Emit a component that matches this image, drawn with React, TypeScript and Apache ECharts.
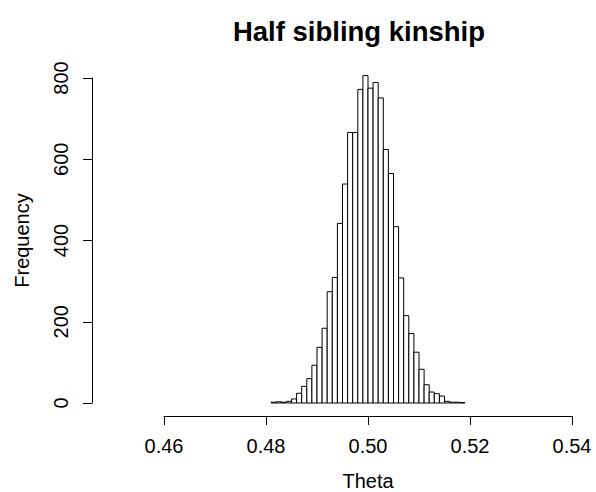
import React, { useEffect, useRef } from "react";
import * as echarts from "echarts";

const binStart = 0.481;
const binWidth = 0.001;
const counts = [2, 3, 2, 4, 10, 24, 41, 60, 93, 137, 184, 274, 309, 442, 539, 666, 666, 772, 806, 775, 789, 751, 624, 565, 434, 308, 215, 171, 125, 83, 45, 27, 23, 17, 4, 2, 2, 1];
const xTicks = [0.46, 0.48, 0.5, 0.52, 0.54];
const yTicks = [0, 200, 400, 600, 800];
const title = "Half sibling kinship";
const xName = "Theta";
const yName = "Frequency";

const FONT = "Liberation Sans, Arial, Helvetica, sans-serif";

export default function App() {
  const ref = useRef<HTMLDivElement>(null);
  useEffect(() => {
    if (!ref.current) return;
    const chart = echarts.init(ref.current, null, { renderer: "svg" });
    const data = counts.map((c, i) => [
      +(binStart + i * binWidth).toFixed(3),
      +(binStart + (i + 1) * binWidth).toFixed(3),
      c,
    ]);
    chart.setOption({
      animation: false,
      backgroundColor: "#ffffff",
      textStyle: { fontFamily: FONT, color: "#000" },
      title: {
        text: title,
        left: 354,
        top: 12,
        textAlign: "center",
        textStyle: { fontFamily: FONT, fontWeight: "bold", fontSize: 27.5, color: "#000" },
      },
      grid: { left: 164, width: 408, top: 78, height: 325, outerBoundsMode: "none", containLabel: false },
      xAxis: {
        type: "value",
        min: xTicks[0],
        max: xTicks[xTicks.length - 1],
        interval: 0.02,
        offset: 13,
        name: xName,
        nameLocation: "middle",
        nameGap: 55,
        nameTextStyle: { fontFamily: FONT, fontSize: 20, color: "#000" },
        axisLine: { show: true, onZero: false, lineStyle: { color: "#000", width: 1 } },
        axisTick: { show: true, length: 9, lineStyle: { color: "#000" } },
        axisLabel: {
          margin: 20,
          fontFamily: FONT,
          fontSize: 20,
          color: "#000",
          formatter: (v: number) => v.toFixed(2),
        },
        splitLine: { show: false },
      },
      yAxis: {
        type: "value",
        min: yTicks[0],
        max: yTicks[yTicks.length - 1],
        interval: 200,
        offset: 72,
        name: yName,
        nameLocation: "middle",
        nameGap: 60,
        nameRotate: 90,
        nameTextStyle: { fontFamily: FONT, fontSize: 20, color: "#000" },
        axisLine: { show: true, onZero: false, lineStyle: { color: "#000", width: 1 } },
        axisTick: { show: true, length: 9, lineStyle: { color: "#000" } },
        axisLabel: {
          margin: 21,
          rotate: 90,
          fontFamily: FONT,
          fontSize: 20,
          color: "#000",
        },
        splitLine: { show: false },
      },
      series: [
        {
          type: "custom",
          clip: false,
          data,
          encode: { x: [0, 1], y: 2 },
          renderItem: (params: any, api: any) => {
            const s = api.value(0);
            const e = api.value(1);
            const c = api.value(2);
            const p0 = api.coord([s, 0]);
            const p1 = api.coord([e, c]);
            return {
              type: "rect",
              shape: { x: p0[0], y: p1[1], width: p1[0] - p0[0], height: p0[1] - p1[1] },
              style: { fill: "#ffffff", stroke: "#000000", lineWidth: 1 },
            };
          },
        },
      ],
    });
    return () => chart.dispose();
  }, []);
  return (
    <div
      ref={ref}
      style={{ position: "absolute", left: 0, top: 0, width: 596, height: 492 }}
    />
  );
}
